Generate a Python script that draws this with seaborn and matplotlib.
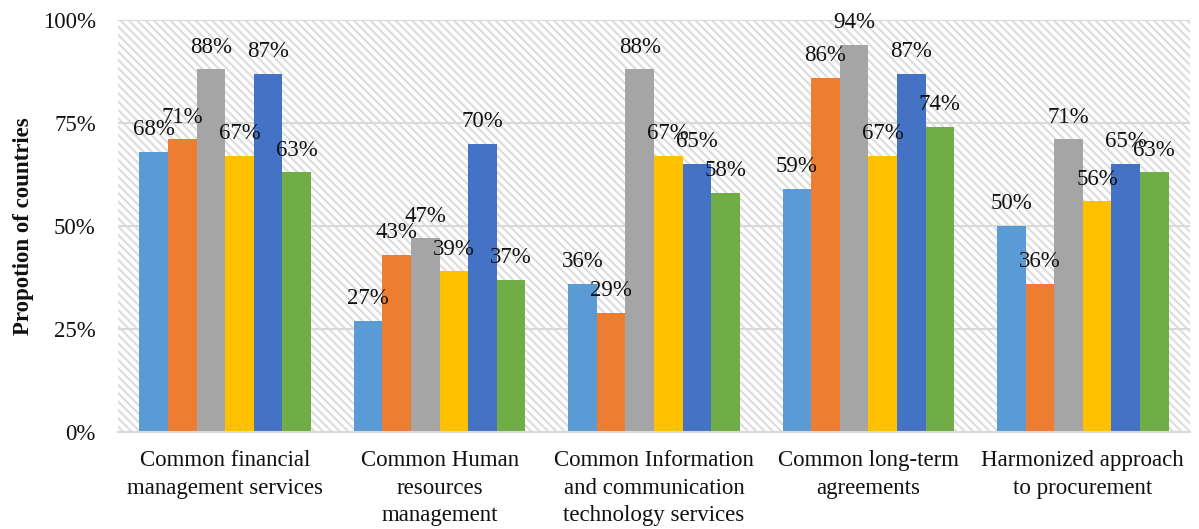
import matplotlib
matplotlib.use("Agg")
import matplotlib.pyplot as plt
from matplotlib.patches import Rectangle
from matplotlib.ticker import FuncFormatter
import seaborn as sns
import pandas as pd

# Service areas (x categories)
categories = [
    "Common financial\nmanagement services",
    "Common Human\nresources\nmanagement",
    "Common Information\nand communication\ntechnology services",
    "Common long-term\nagreements",
    "Harmonized approach\nto procurement",
]

# Share of countries (%) for each series, one list per series
series_names = ["Series 1", "Series 2", "Series 3", "Series 4", "Series 5", "Series 6"]
series_1 = [68, 27, 36, 59, 50]
series_2 = [71, 43, 29, 86, 36]
series_3 = [88, 47, 88, 94, 71]
series_4 = [67, 39, 67, 67, 56]
series_5 = [87, 70, 65, 87, 65]
series_6 = [63, 37, 58, 74, 63]

y_ticks = [0, 25, 50, 75, 100]

palette = ["#5B9BD5", "#ED7D31", "#A5A5A5", "#FFC000", "#4472C4", "#70AD47"]

rows = []
for name, vals in zip(series_names,
                      [series_1, series_2, series_3, series_4, series_5, series_6]):
    for cat, v in zip(categories, vals):
        rows.append({"category": cat, "series": name, "value": v})
df = pd.DataFrame(rows)

sns.set_theme(style="white")
plt.rcParams["font.family"] = ["Liberation Serif", "DejaVu Serif"]
plt.rcParams["hatch.linewidth"] = 1.5

FS = 16.5
TXT = "#111111"

fig = plt.figure(figsize=(11.99, 5.29), dpi=100)
ax = fig.add_axes([0.0984, 0.1834, 0.8941, 0.7788])

# hatched plot-area background
bg = Rectangle((0, 0), 1, 1, transform=ax.transAxes, facecolor="white",
               edgecolor="#DDDDDD", hatch="\\\\\\\\", linewidth=0, zorder=0)
ax.add_patch(bg)

sns.barplot(data=df, x="category", y="value", hue="series", order=categories,
            hue_order=series_names, palette=palette, width=0.8, saturation=1,
            linewidth=0, legend=False, ax=ax, zorder=3)

ax.set_ylim(0, 100)
ax.set_yticks(y_ticks)
ax.yaxis.set_major_formatter(FuncFormatter(lambda v, _: f"{v:.0f}%"))
ax.grid(axis="y", color="#D9D9D9", linewidth=1.5, zorder=1)
ax.set_axisbelow(True)
for s in ["top", "right", "left"]:
    ax.spines[s].set_visible(False)
ax.spines["bottom"].set_color("#D9D9D9")
ax.spines["bottom"].set_linewidth(1.5)
ax.spines["bottom"].set_zorder(4)

ax.tick_params(axis="y", length=0, pad=16, labelsize=FS, labelcolor=TXT)
ax.tick_params(axis="x", length=0, pad=13, labelsize=FS, labelcolor=TXT)
for t in ax.get_xticklabels():
    t.set_linespacing(1.42)

ax.set_xlabel("")
ax.set_ylabel("Propotion of countries", fontsize=FS, fontweight="bold",
              color=TXT, labelpad=6)

# value labels above each bar
for container in ax.containers:
    for bar in container:
        h = bar.get_height()
        ax.annotate(f"{h:.0f}%", (bar.get_x() + bar.get_width() / 2, h),
                    xytext=(0, 16), textcoords="offset points",
                    ha="center", va="center", fontsize=FS, color=TXT,
                    zorder=5)

fig.savefig("out.png", dpi=100, facecolor="white")
